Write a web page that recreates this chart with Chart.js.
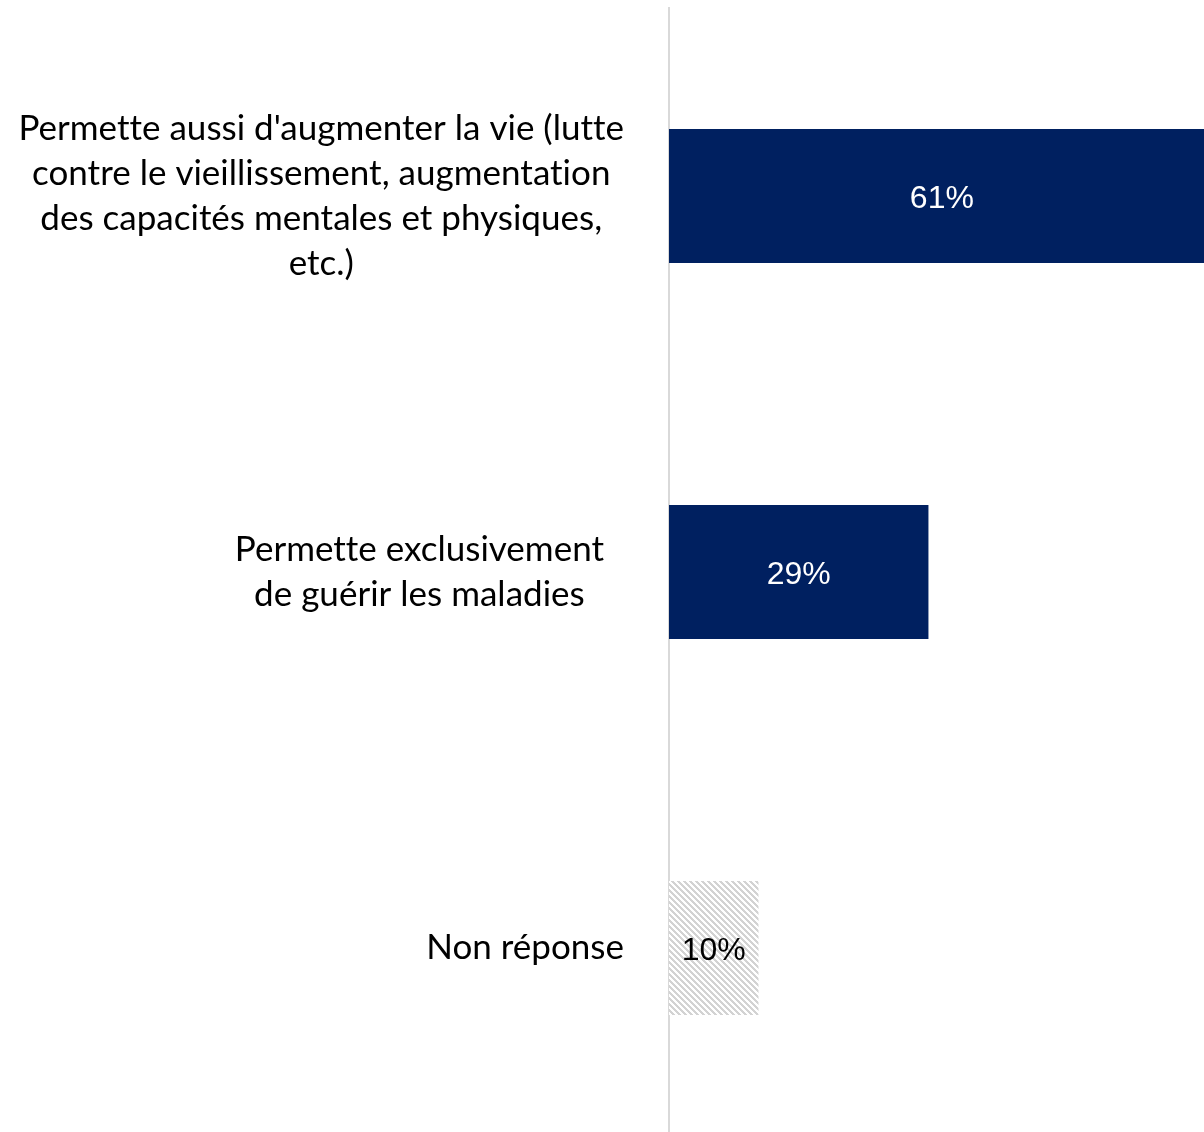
<!DOCTYPE html>
<html>
<head>
<meta charset="utf-8">
<script src="https://cdn.jsdelivr.net/npm/chart.js@4/dist/chart.umd.min.js"></script>
<style>
  html, body { margin: 0; padding: 0; background: #ffffff; overflow: hidden; }
  #wrap { width: 1204px; height: 1136px; }
</style>
</head>
<body>
<div id="wrap"><canvas id="c" width="1204" height="1136"></canvas></div>
<script>
// ---- data ----
const categories = [
  ["Permette aussi d'augmenter la vie (lutte", "contre le vieillissement, augmentation", "des capacités mentales et physiques,", "etc.)"],
  ["Permette exclusivement", "de guérir les maladies"],
  ["Non réponse"]
];
const values = [61, 29, 10];
const valueLabels = ["61%", "29%", "10%"];

// ---- styles ----
const NAVY = '#002060';
const labelBoxExtra = [0, 40, 0]; // extra label box width (wrapped-label box, Excel style)
function hatchPattern() {
  const t = document.createElement('canvas');
  t.width = 6; t.height = 6;
  const c = t.getContext('2d');
  c.fillStyle = '#ffffff';
  c.fillRect(0, 0, 6, 6);
  c.fillStyle = '#d3d3d3';
  for (let y = 0; y < 6; y++) {
    for (let x = 0; x < 6; x++) {
      if ((((x - y) % 6) + 6) % 6 < 3) c.fillRect(x, y, 1, 1);
    }
  }
  return c.createPattern(t, 'repeat');
}
const barColors = [NAVY, NAVY, hatchPattern()];
const valueColors = ['#ffffff', '#ffffff', '#000000'];

const catLabelPlugin = {
  id: 'catLabels',
  afterDraw(chart) {
    const ctx = chart.ctx;
    const ys = chart.scales.y;
    const right = chart.chartArea.left - 45;
    const lh = 45;
    ctx.save();
    ctx.font = '35px Lato';
    try { ctx.letterSpacing = '0.01px'; } catch (e) {}
    ctx.fillStyle = '#000000';
    ctx.textAlign = 'center';
    ctx.textBaseline = 'middle';
    categories.forEach((lines, i) => {
      const y0 = ys.getPixelForValue(i);
      const w = Math.max(...lines.map(l => ctx.measureText(l).width)) + labelBoxExtra[i];
      const cx = right - w / 2;
      const startY = y0 - (lines.length - 1) * lh / 2;
      lines.forEach((l, k) => ctx.fillText(l, cx, startY + k * lh));
    });
    ctx.restore();
  }
};

const valueLabelPlugin = {
  id: 'valueLabels',
  afterDatasetsDraw(chart) {
    const ctx = chart.ctx;
    const meta = chart.getDatasetMeta(0);
    ctx.save();
    ctx.font = '32px "Liberation Sans", Arial, sans-serif';
    ctx.textAlign = 'center';
    ctx.textBaseline = 'middle';
    meta.data.forEach((el, i) => {
      ctx.fillStyle = valueColors[i];
      ctx.fillText(valueLabels[i], (el.x + el.base) / 2, el.y + 3);
    });
    ctx.restore();
  }
};

new Chart(document.getElementById('c'), {
  type: 'bar',
  data: {
    labels: categories.map(l => l.join(' ')),
    datasets: [{
      data: values,
      backgroundColor: barColors,
      borderWidth: 0,
      barPercentage: 0.356,
      categoryPercentage: 1.0
    }]
  },
  options: {
    indexAxis: 'y',
    responsive: false,
    devicePixelRatio: 1,
    animation: false,
    layout: { padding: { top: 8, bottom: 0, left: 0, right: 0 } },
    plugins: { legend: { display: false }, tooltip: { enabled: false } },
    scales: {
      x: {
        display: false,
        min: 0,
        max: 59.8
      },
      y: {
        type: 'category',
        ticks: { display: false },
        grid: { display: false, drawTicks: false },
        border: { display: true, color: '#d9d9d9', width: 2 },
        afterFit(scale) { scale.width = 669; }
      }
    }
  },
  plugins: [catLabelPlugin, valueLabelPlugin]
});
</script>
</body>
</html>
